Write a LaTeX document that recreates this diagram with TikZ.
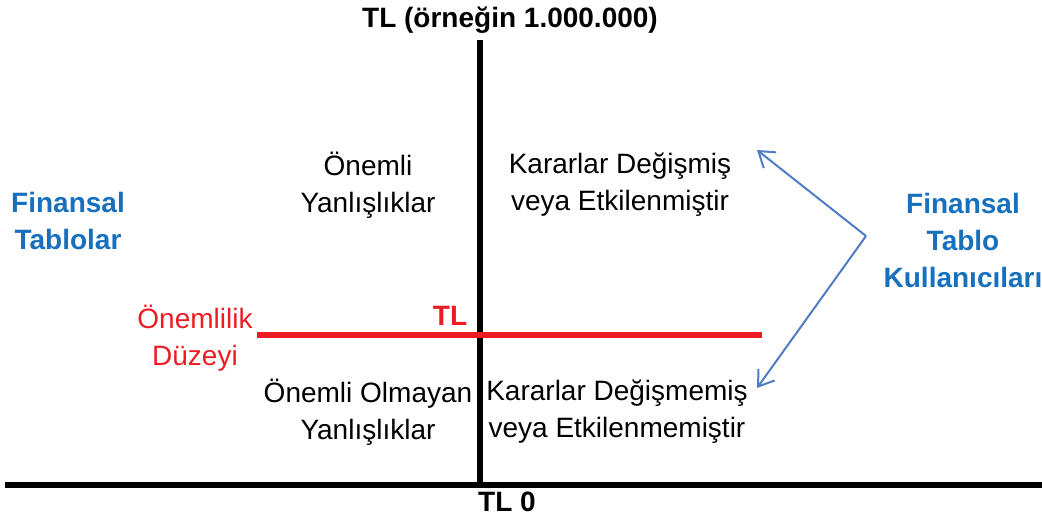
\documentclass[tikz,border=0pt]{standalone}
\usepackage{fontspec}
\setmainfont{Liberation Sans}
\usetikzlibrary{arrows.meta}
\definecolor{tblue}{RGB}{23,112,190}
\definecolor{tred}{RGB}{237,28,36}
\definecolor{abl}{RGB}{79,124,196}
\begin{document}
\begin{tikzpicture}[x=0.75pt,y=-0.75pt,
  txt/.style={align=center,inner sep=0pt,font=\fontsize{21}{27.75}\selectfont},
  btxt/.style={txt,font=\fontsize{21}{27.75}\selectfont\bfseries},
  axis/.style={line width=4.5pt,black},
  redline/.style={line width=3.8pt,tred},
  userarrow/.style={abl,line width=1.5pt,-{Straight Barb[length=11pt,width=15pt]}}]
\useasboundingbox (0,0) rectangle (1042,517);
% axes
\coordinate (vtop) at (480,40);
\coordinate (vbot) at (480,488);
\coordinate (hl) at (5,485);
\coordinate (hr) at (1042,485);
\draw[axis] (vtop) -- (vbot);
\draw[axis] (hl) -- (hr);
% materiality line
\coordinate (rl) at (257,335);
\coordinate (rr) at (762,335);
\draw[redline] (rl) -- (rr);
% labels
\node[btxt] (title) at (510,20) {TL (örneğin 1.000.000)};
\node[btxt] (zero) at (507,502) {TL 0};
\node[txt] (q1) at (368,185) {Önemli\\Yanlışlıklar};
\node[txt] (q2) at (620,185) {Kararlar Değişmiş\\veya Etkilenmiştir};
\node[txt] (q3) at (368,412) {Önemli Olmayan\\Yanlışlıklar};
\node[txt] (q4) at (617,412) {Kararlar Değişmemiş\\veya Etkilenmemiştir};
\node[btxt,text=tblue] (ft) at (68,221) {Finansal\\Tablolar};
\node[btxt,text=tblue] (ftk) at (963,240) {Finansal\\Tablo\\Kullanıcıları};
\node[txt,text=tred] (od) at (195,338) {Önemlilik\\Düzeyi};
\node[btxt,text=tred] (tl) at (450,316) {TL};
% arrows
\coordinate (apex) at (866,236);
\coordinate (aup) at (757,150);
\coordinate (adown) at (757,388);
\draw[userarrow] (apex) -- (aup);
\draw[userarrow] (apex) -- (adown);
\end{tikzpicture}
\end{document}
